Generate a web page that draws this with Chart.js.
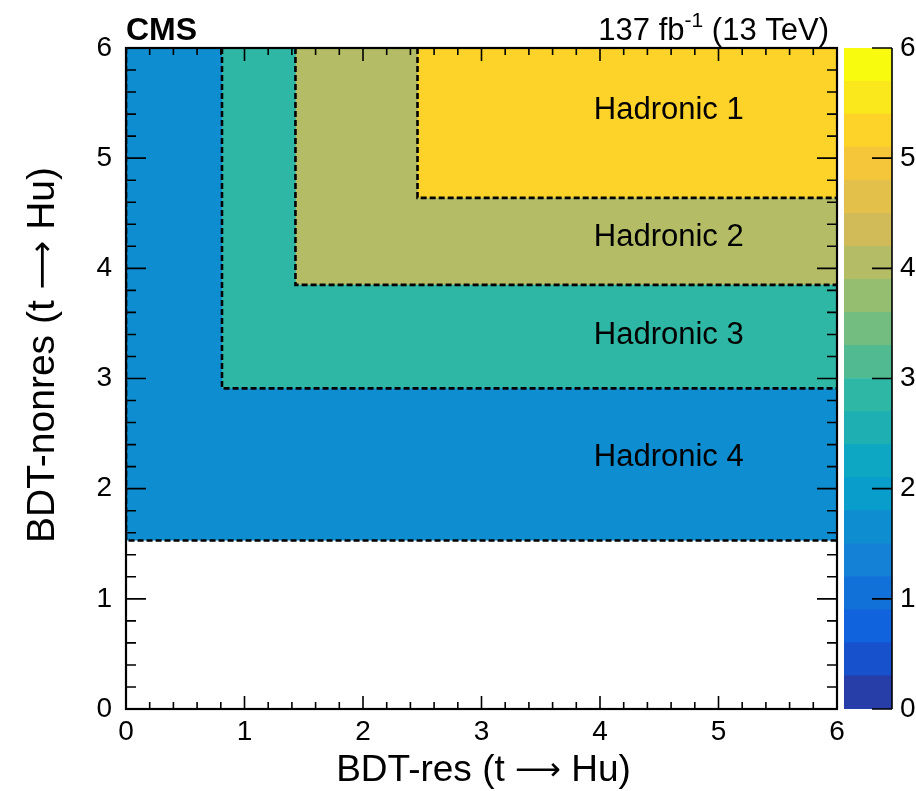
<!DOCTYPE html>
<html>
<head>
<meta charset="utf-8">
<script src="https://cdn.jsdelivr.net/npm/chart.js@4.4.1/dist/chart.umd.min.js"></script>
<style>
    html, body { margin: 0; padding: 0; background: #fff; }
    #wrap { position: relative; width: 916px; height: 791px; }
    #wrap canvas { position: absolute; left: 0; top: 0; }
</style>
</head>
<body>
<div id="wrap">
    <canvas id="graficoRegioes" width="916" height="791"></canvas>
    <canvas id="escalaCor" width="916" height="791"></canvas>
</div>
<script>
// categorias: lower cuts on BDT-res and BDT-nonres for each hadronic category
const categorias = ['Hadronic 1', 'Hadronic 2', 'Hadronic 3', 'Hadronic 4'];
const corteRes = [2.46, 1.43, 0.81, 0.0];
const corteNonres = [4.64, 3.85, 2.91, 1.53];
const valorZ = [5.25, 4.05, 2.85, 1.65];
const ticksEixo = [0, 1, 2, 3, 4, 5, 6];

const zMin = 0;
const zMax = 6;
const nContornos = 20;

const FONTE = "'Liberation Sans', Arial, Helvetica, sans-serif";
const FONTE_SETA = "'DejaVu Sans', sans-serif";

// kBird palette
const birdStops = [0.0, 0.125, 0.25, 0.375, 0.5, 0.625, 0.75, 0.875, 1.0];
const birdR = [0.2082, 0.0592, 0.0780, 0.0232, 0.1802, 0.5301, 0.8186, 0.9956, 0.9764];
const birdG = [0.1664, 0.3599, 0.5041, 0.6419, 0.7178, 0.7492, 0.7328, 0.7862, 0.9832];
const birdB = [0.5293, 0.8684, 0.8385, 0.7914, 0.6425, 0.4662, 0.3499, 0.1968, 0.0539];

function corBird(f) {
    let i = 0;
    while (i < birdStops.length - 2 && f > birdStops[i + 1]) i++;
    const t = (f - birdStops[i]) / (birdStops[i + 1] - birdStops[i]);
    const c = arr => Math.round(255 * (arr[i] + (arr[i + 1] - arr[i]) * t));
    return `rgb(${c(birdR)}, ${c(birdG)}, ${c(birdB)})`;
}

function corContorno(z) {
    const banda = Math.min(nContornos - 1, Math.floor((z - zMin) / (zMax - zMin) * nContornos));
    const idx = Math.floor((banda + 0.99) * 255 / nContornos);
    return corBird(idx / 254);
}

// text made of pieces in different fonts, centred on (cx, cy)
function textoMisto(ctx, partes, cx, cy) {
    let total = 0;
    partes.forEach(p => { ctx.font = p.font; p.w = ctx.measureText(p.t).width; total += p.w; });
    let xx = cx - total / 2;
    ctx.textAlign = 'left';
    ctx.textBaseline = 'alphabetic';
    partes.forEach(p => { ctx.font = p.font; ctx.fillText(p.t, xx, cy + (p.dy || 0)); xx += p.w; });
}

function tituloEixo(nome, tam) {
    return [
        { t: nome + ' (t ', font: `${tam}px ${FONTE}` },
        { t: '\u27F6', font: `${Math.round(tam * 0.87)}px ${FONTE_SETA}`, dy: -1 },
        { t: ' Hu)', font: `${tam}px ${FONTE}` }
    ];
}

// each category fills from its corner up to the top/right edges
const datasets = categorias.map((nome, i) => ({
    label: nome,
    data: [
        { x: corteRes[i], y: zMax },
        { x: corteRes[i], y: corteNonres[i] },
        { x: 6, y: corteNonres[i] }
    ],
    fill: 'end',
    backgroundColor: corContorno(valorZ[i]),
    borderColor: '#000',
    borderWidth: 2.6,
    borderDash: [6, 3],
    pointRadius: 0,
    tension: 0
}));

const posRotulo = { x: 4.58, y: [5.43, 4.28, 3.39, 2.28] };

const molduraPlugin = {
    id: 'moldura',
    afterDraw(chart) {
        const { ctx, chartArea: a, scales: { x, y } } = chart;
        ctx.save();

        // tick marks drawn inside the frame
        ctx.strokeStyle = '#000';
        ctx.lineWidth = 1.6;
        ctx.beginPath();
        for (let k = 0; k <= 30; k++) {
            const v = k / 5;
            const maior = k % 5 === 0;
            const px = x.getPixelForValue(v);
            const py = y.getPixelForValue(v);
            const lx = maior ? 13 : 7;
            const ly = maior ? 20 : 10;
            ctx.moveTo(px, a.bottom); ctx.lineTo(px, a.bottom - lx);
            ctx.moveTo(px, a.top); ctx.lineTo(px, a.top + lx);
            ctx.moveTo(a.left, py); ctx.lineTo(a.left + ly, py);
            ctx.moveTo(a.right, py); ctx.lineTo(a.right - ly, py);
        }
        ctx.stroke();

        ctx.lineWidth = 2.2;
        ctx.strokeRect(a.left, a.top, a.right - a.left, a.bottom - a.top);

        // category labels
        ctx.fillStyle = '#000';
        ctx.font = `31px ${FONTE}`;
        ctx.textAlign = 'center';
        ctx.textBaseline = 'middle';
        categorias.forEach((nome, i) => {
            ctx.fillText(nome, x.getPixelForValue(posRotulo.x), y.getPixelForValue(posRotulo.y[i]));
        });

        // axis titles
        textoMisto(ctx, tituloEixo('BDT-res', 37), (a.left + a.right) / 2 + 2, 781);
        ctx.save();
        ctx.translate(54, 355);
        ctx.rotate(-Math.PI / 2);
        textoMisto(ctx, tituloEixo('BDT-nonres', 39), 0, 0);
        ctx.restore();

        // header
        ctx.textBaseline = 'alphabetic';
        ctx.textAlign = 'left';
        ctx.font = `bold 32px ${FONTE}`;
        ctx.fillText('CMS', a.left, 40);

        ctx.font = `31px ${FONTE}`;
        const t1 = '137 fb';
        const sup = '-1';
        const t2 = ' (13 TeV)';
        const w1 = ctx.measureText(t1).width;
        const w2 = ctx.measureText(t2).width;
        ctx.font = `21px ${FONTE}`;
        const ws = ctx.measureText(sup).width;
        const xt = 829 - (w1 + ws + w2);
        ctx.font = `31px ${FONTE}`;
        ctx.fillText(t1, xt, 40);
        ctx.font = `21px ${FONTE}`;
        ctx.fillText(sup, xt + w1, 27);
        ctx.font = `31px ${FONTE}`;
        ctx.fillText(t2, xt + w1 + ws, 40);

        ctx.restore();
    }
};

const ctx = document.getElementById('graficoRegioes').getContext('2d');
new Chart(ctx, {
    type: 'line',
    data: { datasets },
    options: {
        responsive: false,
        animation: false,
        devicePixelRatio: 1,
        layout: { padding: { top: 48, right: 79, left: 0, bottom: 0 } },
        plugins: {
            legend: { display: false },
            tooltip: { enabled: false },
            filler: { propagate: false }
        },
        scales: {
            x: {
                type: 'linear',
                min: 0,
                max: 6,
                afterFit: s => { s.height = 82; },
                afterBuildTicks: s => { s.ticks = ticksEixo.map(v => ({ value: v })); },
                grid: { display: false, drawTicks: false },
                border: { display: false },
                ticks: { color: '#000', font: { family: FONTE, size: 28 }, padding: 6, maxRotation: 0 }
            },
            y: {
                type: 'linear',
                min: 0,
                max: 6,
                afterFit: s => { s.width = 126; },
                afterBuildTicks: s => { s.ticks = ticksEixo.map(v => ({ value: v })); },
                grid: { display: false, drawTicks: false },
                border: { display: false },
                ticks: { color: '#000', font: { family: FONTE, size: 28 }, padding: 14 }
            }
        }
    },
    plugins: [molduraPlugin]
});

// colour scale: one floating bar per contour band
const niveis = Array.from({ length: nContornos + 1 }, (_, i) => zMin + i * (zMax - zMin) / nContornos);
const bandas = niveis.slice(0, -1).map((lo, i) => ({
    data: [[lo, niveis[i + 1]]],
    backgroundColor: corContorno((lo + niveis[i + 1]) / 2),
    borderWidth: 0,
    barPercentage: 1,
    categoryPercentage: 1,
    grouped: false
}));

const escalaPlugin = {
    id: 'escala',
    afterDraw(chart) {
        const { ctx, chartArea: a, scales: { y } } = chart;
        ctx.save();
        ctx.strokeStyle = '#000';
        ctx.lineWidth = 1.6;
        ctx.beginPath();
        ticksEixo.forEach(v => {
            const py = y.getPixelForValue(v);
            ctx.moveTo(a.right, py);
            ctx.lineTo(a.right - 20, py);
        });
        ctx.moveTo(a.right, a.top);
        ctx.lineTo(a.right, a.bottom);
        ctx.stroke();
        ctx.restore();
    }
};

new Chart(document.getElementById('escalaCor').getContext('2d'), {
    type: 'bar',
    data: { labels: [''], datasets: bandas },
    options: {
        responsive: false,
        animation: false,
        devicePixelRatio: 1,
        layout: { padding: { top: 48, bottom: 82, left: 844, right: 0 } },
        plugins: { legend: { display: false }, tooltip: { enabled: false } },
        scales: {
            x: { display: false },
            y: {
                position: 'right',
                min: zMin,
                max: zMax,
                afterFit: s => { s.width = 24; },
                afterBuildTicks: s => { s.ticks = ticksEixo.map(v => ({ value: v })); },
                grid: { display: false, drawTicks: false },
                border: { display: false },
                ticks: { color: '#000', font: { family: FONTE, size: 28 }, padding: 8 }
            }
        }
    },
    plugins: [escalaPlugin]
});
</script>
</body>
</html>
